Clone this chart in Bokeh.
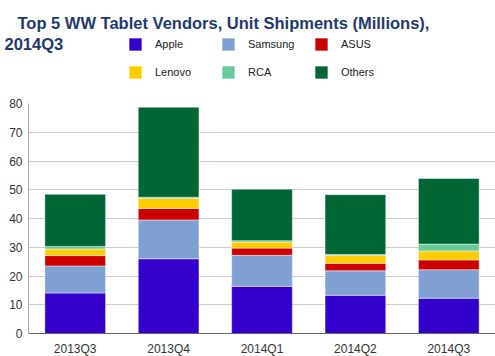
from bokeh.plotting import figure
from bokeh.layouts import column, row
from bokeh.models import ColumnDataSource, FactorRange, Range1d, Legend, LegendItem, Label, FixedTicker
from bokeh.embed import file_html
from bokeh.resources import INLINE

quarters = ["2013Q3", "2013Q4", "2014Q1", "2014Q2", "2014Q3"]
vendors = ["Apple", "Samsung", "ASUS", "Lenovo", "RCA", "Others"]
apple = [14.1, 26.0, 16.4, 13.3, 12.3]
samsung = [9.4, 13.5, 10.8, 8.5, 9.9]
asus = [3.6, 4.0, 2.5, 2.6, 3.4]
lenovo = [2.3, 3.5, 2.1, 2.7, 3.1]
rca = [0.9, 0.4, 0.5, 0.4, 2.4]
others = [18.1, 31.3, 17.9, 20.8, 22.8]
colors = ["#3300cc", "#809fd3", "#cc0000", "#ffcc00", "#66cc99", "#006633"]
title_line1 = "Top 5 WW Tablet Vendors, Unit Shipments (Millions),"
title_line2 = "2014Q3"

font = "Liberation Sans"
title_color = "#1f3a6e"

src = ColumnDataSource(dict(q=quarters, Apple=apple, Samsung=samsung, ASUS=asus,
                            Lenovo=lenovo, RCA=rca, Others=others))

# ---------- header: title + legend ----------
# the header holds hidden copies of the stacked bars, only so that the legend has swatches
head = figure(width=495, height=95, x_range=FactorRange(*quarters), y_range=Range1d(1000, 1001),
              x_axis_type=None, y_axis_type=None, output_backend="svg", toolbar_location=None,
              min_border_left=0, min_border_right=0, min_border_top=0, min_border_bottom=0)
head.outline_line_color = None
head.title.visible = False
head.xgrid.visible = False
head.ygrid.visible = False

swatches = head.vbar_stack(vendors, x="q", width=0.65, source=src, color=colors,
                           line_color="white", line_alpha=0.45)
for r in swatches:
    r.visible = False
items = [LegendItem(label=v, renderers=[r]) for v, r in zip(vendors, swatches)]
legend = Legend(items=items, orientation="horizontal", ncols=3, location=(127, 15),
                glyph_width=16, glyph_height=16, label_standoff=12, spacing=12, label_width=53,
                padding=0, margin=0, border_line_color=None, background_fill_alpha=0,
                click_policy="none",
                label_text_font=font, label_text_font_size="11px", label_text_color="#222222")
head.add_layout(legend, "center")

t1 = Label(x=17, y=73, x_units="screen", y_units="screen", text=title_line1,
           text_font=font, text_font_style="bold", text_font_size="16.5px",
           text_color=title_color, text_baseline="alphabetic")
t2 = Label(x=4, y=52, x_units="screen", y_units="screen", text=title_line2,
           text_font=font, text_font_style="bold", text_font_size="16.5px",
           text_color=title_color, text_baseline="alphabetic")
head.add_layout(t1)
head.add_layout(t2)

# ---------- main chart ----------
p = figure(frame_width=467, frame_height=230, x_range=FactorRange(*quarters), y_range=Range1d(0, 80),
           output_backend="svg", toolbar_location=None,
           min_border_left=28, min_border_right=0, min_border_top=8, min_border_bottom=0)
p.outline_line_color = None
p.title.visible = False

rs = p.vbar_stack(vendors, x="q", width=0.65, source=src, color=colors,
                  line_color="white", line_alpha=0.45, line_width=1)

p.yaxis.ticker = FixedTicker(ticks=[0, 10, 20, 30, 40, 50, 60, 70, 80])
for ax in (p.xaxis[0], p.yaxis[0]):
    ax.major_tick_line_color = None
    ax.minor_tick_line_color = None
    ax.major_tick_out = 0
    ax.major_tick_in = 0
    ax.major_label_text_font = font
    ax.major_label_text_font_size = "12px"
    ax.major_label_text_color = "#333333"
p.yaxis.axis_line_color = "#aaaaaa"
p.yaxis.major_label_standoff = 6
p.xaxis.axis_line_color = "#666666"
p.xaxis.major_label_standoff = 8
p.xgrid.grid_line_color = None
p.ygrid.grid_line_color = "#cccccc"

layout = column(row(head), p, spacing=0)
open("out.html", "w").write(file_html(layout, INLINE))
